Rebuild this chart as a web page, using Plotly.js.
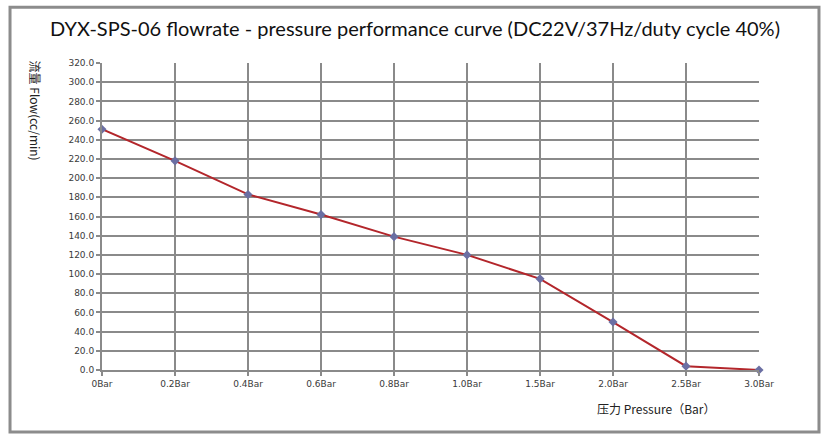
<!DOCTYPE html>
<html>
<head>
<meta charset="utf-8">
<script src="https://cdn.plot.ly/plotly-3.0.1.min.js"></script>
<style>
  html, body { margin: 0; padding: 0; background: #fff; }
  #chart { width: 830px; height: 444px; }
</style>
</head>
<body>
<div id="chart"></div>
<script>
const pressureLabels = ["0Bar", "0.2Bar", "0.4Bar", "0.6Bar", "0.8Bar", "1.0Bar", "1.5Bar", "2.0Bar", "2.5Bar", "3.0Bar"];
const flowValues = [251, 218, 183, 162, 139, 120, 95, 50, 4, 0];

const titleText = "DYX-SPS-06 flowrate - pressure performance curve (DC22V/37Hz/duty cycle 40%)";
const xTitle = "压力 Pressure（Bar）";
const yTitle = "流量 Flow(cc/min)";

const gridColor = "#8a8a8a";
const tickFont = { family: "DejaVu Sans, Verdana, sans-serif", size: 9, color: "#3a3a3a" };
const labelFont = { family: "Noto Sans CJK SC, sans-serif", size: 12, color: "#222" };

const trace = {
  type: "scatter",
  mode: "lines+markers",
  x: pressureLabels,
  y: flowValues,
  line: { color: "#b3262b", width: 2 },
  marker: { symbol: "diamond", size: 7, color: "#6b6fa3" },
  cliponaxis: false,
  hoverinfo: "x+y",
};

const layout = {
  width: 830,
  height: 444,
  margin: { l: 102, r: 71, t: 63, b: 74 },
  paper_bgcolor: "#fff",
  plot_bgcolor: "#fff",
  showlegend: false,
  title: {
    text: titleText,
    font: { family: "Lato, Open Sans, sans-serif", size: 20, color: "#111" },
    x: 0.5,
    xref: "container",
    xanchor: "center",
    y: 0.95,
    yref: "container",
    yanchor: "top",
  },
  xaxis: {
    type: "category",
    range: [0, pressureLabels.length - 1],
    showgrid: true,
    gridcolor: gridColor,
    gridwidth: 2,
    showline: true,
    linecolor: gridColor,
    linewidth: 2,
    ticks: "outside",
    ticklen: 4,
    tickcolor: gridColor,
    tickwidth: 2,
    tickfont: tickFont,
    zeroline: false,
    fixedrange: true,
  },
  yaxis: {
    range: [0, 320],
    dtick: 20,
    tickformat: ".1f",
    showgrid: true,
    gridcolor: gridColor,
    gridwidth: 2,
    showline: true,
    linecolor: gridColor,
    linewidth: 2,
    ticks: "outside",
    ticklen: 4,
    tickcolor: gridColor,
    tickwidth: 2,
    tickfont: tickFont,
    zeroline: false,
    fixedrange: true,
  },
  annotations: [
    {
      text: xTitle,
      xref: "paper",
      yref: "paper",
      x: 0.843,
      y: -0.125,
      xanchor: "center",
      yanchor: "middle",
      showarrow: false,
      font: labelFont,
    },
    {
      text: yTitle,
      xref: "paper",
      yref: "paper",
      x: -0.102,
      y: 0.845,
      xanchor: "center",
      yanchor: "middle",
      textangle: 90,
      showarrow: false,
      font: labelFont,
    },
  ],
  shapes: [
    {
      type: "rect",
      xref: "paper",
      yref: "paper",
      x0: -0.14,
      x1: 1.0913,
      y0: -0.202,
      y1: 1.182,
      line: { color: "#8c8c8c", width: 3 },
      fillcolor: "rgba(0,0,0,0)",
      layer: "above",
    },
  ],
};

Plotly.newPlot("chart", [trace], layout, { displayModeBar: false, staticPlot: true });
</script>
</body>
</html>
